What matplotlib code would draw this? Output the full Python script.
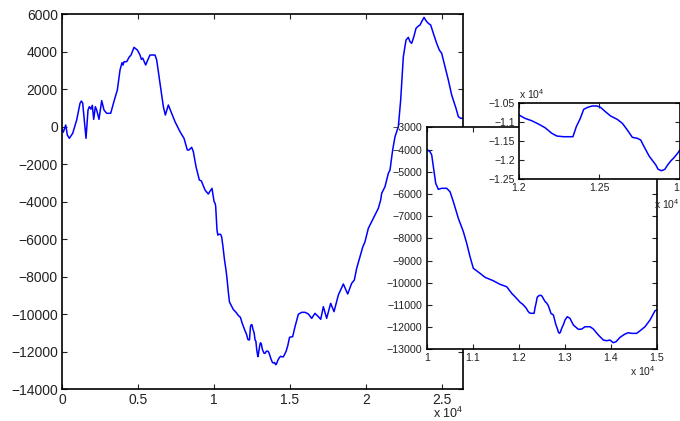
import matplotlib
matplotlib.use('Agg')
import matplotlib.pyplot as plt
from matplotlib.ticker import FuncFormatter

plt.rcParams['font.family'] = ['Liberation Sans', 'DejaVu Sans']
plt.rcParams['mathtext.default'] = 'regular'

# ── signal (sample index, amplitude) ──
sample_idx = [
    0, 86, 243, 350, 483, 702, 965, 1184, 1272, 1360, 1447, 1579, 1710, 1798,
    1900, 1995, 2084, 2193, 2281, 2434, 2610, 2763, 2939, 3202, 3443, 3640,
    3816, 3947, 4013, 4079, 4254, 4408, 4540, 4737, 4956, 5132, 5219, 5307,
    5506, 5614, 5789, 6118, 6228, 6447, 6667, 6798, 6995, 7215, 7434, 7763,
    8026, 8245, 8355, 8531, 8640, 8816, 9035, 9166, 9408, 9627, 9737, 9868,
    10000, 10072, 10109, 10145, 10196, 10253, 10326, 10435, 10507, 10580,
    10688, 10797, 10870, 10942, 11014, 11159, 11268, 11361, 11448, 11594,
    11739, 11848, 11920, 12000, 12037, 12079, 12121, 12162, 12204, 12235,
    12277, 12335, 12356, 12381, 12402, 12427, 12454, 12485, 12506, 12537,
    12569, 12610, 12642, 12673, 12704, 12735, 12756, 12777, 12808, 12835,
    12850, 12864, 12885, 12906, 12923, 12944, 12965, 12985, 13006, 13057,
    13115, 13188, 13297, 13369, 13442, 13551, 13623, 13732, 13841, 13913,
    13985, 14058, 14116, 14203, 14311, 14384, 14457, 14565, 14638, 14746,
    14855, 14964, 15000, 15175, 15329, 15548, 15767, 15987, 16206, 16425,
    16645, 16864, 17020, 17193, 17412, 17675, 17895, 18180, 18509, 18794,
    19057, 19232, 19386, 19605, 19781, 19934, 20153, 20373, 20592, 20811,
    20965, 21031, 21250, 21469, 21579, 21754, 21908, 22127, 22281, 22456,
    22632, 22785, 22895, 23004, 23150, 23289, 23443, 23553, 23662, 23816,
    23947, 24100, 24255, 24430, 24649, 24824, 24978, 25197, 25416, 25636,
    25746, 25921, 26075, 26231, 26406,
]
amplitude = [
    -150, -300, 80, -450, -630, -363, 347, 1237, 1360, 1250, 523, -630, 880, 1057,
    930, 1130, 384, 1057, 880, 384, 1378, 880, 704, 704, 1413, 1947,
    3013, 3404, 3280, 3457, 3457, 3689, 3813, 4222, 4080, 3813, 3582, 3650,
    3280, 3500, 3813, 3813, 3550, 2304, 1057, 613, 1147, 704, 257, -277,
    -630, -1253, -1250, -1110, -1343, -2143, -2853, -2900, -3387, -3600, -3450, -3297,
    -3991, -4099, -4248, -4775, -5523, -5793, -5748, -5748, -5901, -6352,
    -7100, -7703, -8226, -8830, -9352, -9577, -9757, -9834, -9911, -10073,
    -10181, -10479, -10631, -10808, -10895, -10958, -11045, -11142, -11290, -11361,
    -11379, -11379, -11116, -10895, -10658, -10605, -10571, -10571, -10605, -10721,
    -10834, -10921, -11026, -11203, -11395, -11421, -11466, -11642, -11887, -12037,
    -12124, -12237, -12274, -12237, -12124, -12011, -11921, -11816, -11684, -11532,
    -11605, -11906, -12100, -12090, -11983, -11983, -12087, -12357, -12583, -12613,
    -12583, -12704, -12659, -12461, -12312, -12253, -12282, -12282, -12165, -11983,
    -11681, -11262, -11232, -11210, -10677, -10017, -9910, -9910, -10000, -10231,
    -9964, -10142, -10283, -9610, -10231, -9430, -9876, -8987, -8400, -8933,
    -8363, -8187, -7563, -6943, -6443, -6143, -5430, -5075, -4720, -4363,
    -3920, -3563, -3210, -2497, -2320, -1253, -543, -10, 1413, 3723,
    4613, 4755, 4525, 4436, 4800, 5235, 5360, 5413, 5590, 5822,
    5644, 5502, 5413, 4970, 4436, 4080, 3904, 3190, 2480, 1680,
    1413, 970, 523, 437, 437,
]

main_xticks = [0, 5000, 10000, 15000, 20000, 25000]
main_yticks = list(range(-14000, 6001, 2000))
zoom1_xticks = [10000, 11000, 12000, 13000, 14000, 15000]
zoom1_yticks = list(range(-13000, -2999, 1000))
zoom2_xticks = [12000, 12500, 13000]
zoom2_yticks = [-12500, -12000, -11500, -11000, -10500]

LINE = '#0000FF'
TXT = '#222222'


def fmt_plain(v, pos):
    return f'{v:g}'.replace('-', '\u2212')


def fmt_e4(v, pos):
    return f'{v / 1e4:g}'.replace('-', '\u2212')


def style_axes(ax, size):
    for s in ax.spines.values():
        s.set_linewidth(1.2)
        s.set_color('black')
    ax.tick_params(direction='in', top=True, right=True, length=3.5,
                   width=0.8, labelsize=size, pad=3, colors=TXT)


fig = plt.figure(figsize=(6.8, 4.21), dpi=100)

# main plot
ax = fig.add_axes([0.0912, 0.0760, 0.5901, 0.8907])
ax.plot(sample_idx, amplitude, color=LINE, linewidth=1.1)
ax.set_xlim(0, 26400)
ax.set_ylim(-14000, 6000)
ax.set_xticks(main_xticks)
ax.set_yticks(main_yticks)
ax.xaxis.set_major_formatter(FuncFormatter(fmt_e4))
ax.yaxis.set_major_formatter(FuncFormatter(fmt_plain))
style_axes(ax, 10)
fig.text(463 / 680, (421 - 406) / 421, 'x 10$^{4}$', ha='right', va='top',
         fontsize=9, color=TXT)

# first zoom
ax1 = fig.add_axes([0.6275, 0.1703, 0.3382, 0.5273])
ax1.plot(sample_idx, amplitude, color=LINE, linewidth=1.1)
ax1.set_xlim(10000, 15000)
ax1.set_ylim(-13000, -3000)
ax1.set_xticks(zoom1_xticks)
ax1.set_yticks(zoom1_yticks)
ax1.xaxis.set_major_formatter(FuncFormatter(fmt_e4))
ax1.yaxis.set_major_formatter(FuncFormatter(fmt_plain))
style_axes(ax1, 7.7)
fig.text(656 / 680, (421 - 364) / 421, 'x 10$^{4}$', ha='right', va='top',
         fontsize=7.5, color=TXT)

# second zoom
ax2 = fig.add_axes([0.7632, 0.5741, 0.2368, 0.1805])
ax2.plot(sample_idx, amplitude, color=LINE, linewidth=1.1)
ax2.set_xlim(12000, 13000)
ax2.set_ylim(-12500, -10500)
ax2.set_xticks(zoom2_xticks)
ax2.set_yticks(zoom2_yticks)
ax2.xaxis.set_major_formatter(FuncFormatter(fmt_e4))
ax2.yaxis.set_major_formatter(FuncFormatter(fmt_e4))
style_axes(ax2, 7.5)
fig.text(0.999, (421 - 197) / 421, 'x 10$^{4}$', ha='right', va='top',
         fontsize=7.5, color=TXT)
fig.text(519 / 680, (421 - 101) / 421, 'x 10$^{4}$', ha='left', va='bottom',
         fontsize=7.5, color=TXT)

fig.savefig('out.png', dpi=100)
